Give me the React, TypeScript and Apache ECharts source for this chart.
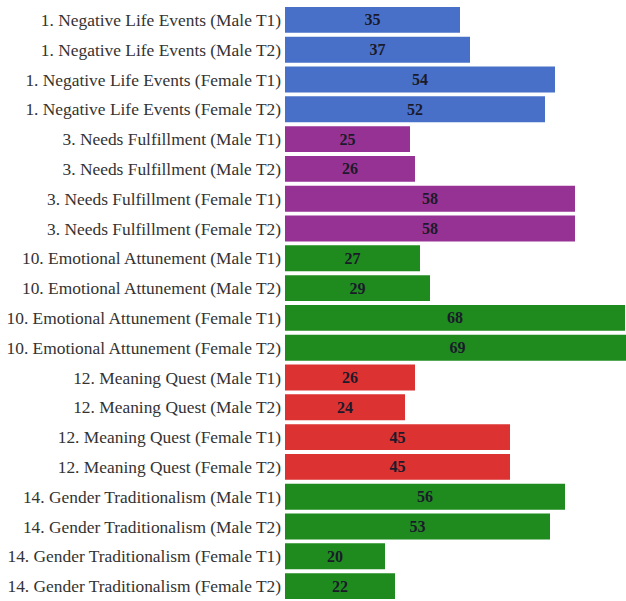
import React, { useEffect, useRef } from "react";
import * as echarts from "echarts";

const categories: string[] = [
  "1. Negative Life Events (Male T1)",
  "1. Negative Life Events (Male T2)",
  "1. Negative Life Events (Female T1)",
  "1. Negative Life Events (Female T2)",
  "3. Needs Fulfillment (Male T1)",
  "3. Needs Fulfillment (Male T2)",
  "3. Needs Fulfillment (Female T1)",
  "3. Needs Fulfillment (Female T2)",
  "10. Emotional Attunement (Male T1)",
  "10. Emotional Attunement (Male T2)",
  "10. Emotional Attunement (Female T1)",
  "10. Emotional Attunement (Female T2)",
  "12. Meaning Quest (Male T1)",
  "12. Meaning Quest (Male T2)",
  "12. Meaning Quest (Female T1)",
  "12. Meaning Quest (Female T2)",
  "14. Gender Traditionalism (Male T1)",
  "14. Gender Traditionalism (Male T2)",
  "14. Gender Traditionalism (Female T1)",
  "14. Gender Traditionalism (Female T2)",
];

const values: number[] = [35, 37, 54, 52, 25, 26, 58, 58, 27, 29, 68, 69, 26, 24, 45, 45, 56, 53, 20, 22];

const groupOfRow: string[] = [
  "neg", "neg", "neg", "neg",
  "needs", "needs", "needs", "needs",
  "emo", "emo", "emo", "emo",
  "meaning", "meaning", "meaning", "meaning",
  "gender", "gender", "gender", "gender",
];

const groupColors: Record<string, string> = {
  neg: "#4870C8",
  needs: "#963294",
  emo: "#1F8B1F",
  meaning: "#DC3232",
  gender: "#1F8B1F",
};

export default function App() {
  const ref = useRef<HTMLDivElement>(null);
  useEffect(() => {
    if (!ref.current) return;
    const chart = echarts.init(ref.current, null, { renderer: "svg" });
    chart.setOption({
      animation: false,
      backgroundColor: "#ffffff",
      grid: {
        left: 285,
        top: 5,
        width: 345,
        height: 596,
        containLabel: false,
        outerBoundsMode: "none",
      },
      xAxis: { type: "value", min: 0, max: 69, show: false },
      yAxis: {
        type: "category",
        data: categories,
        inverse: true,
        axisLine: { show: false },
        axisTick: { show: false },
        splitLine: { show: false },
        axisLabel: {
          margin: 4,
          fontFamily: "Liberation Serif",
          fontSize: 17.4,
          color: "#333333",
        },
      },
      series: [
        {
          type: "bar",
          barCategoryGap: "13%",
          clip: true,
          data: values.map((v, i) => ({
            value: v,
            itemStyle: { color: groupColors[groupOfRow[i]] },
          })),
          label: {
            show: true,
            position: "inside",
            fontFamily: "Liberation Serif",
            fontWeight: "bold",
            fontSize: 16,
            color: "#1a1a2a",
          },
        },
      ],
    });
    return () => chart.dispose();
  }, []);
  return (
    <div
      ref={ref}
      style={{ position: "fixed", left: 0, top: 0, width: 626, height: 601 }}
    />
  );
}
